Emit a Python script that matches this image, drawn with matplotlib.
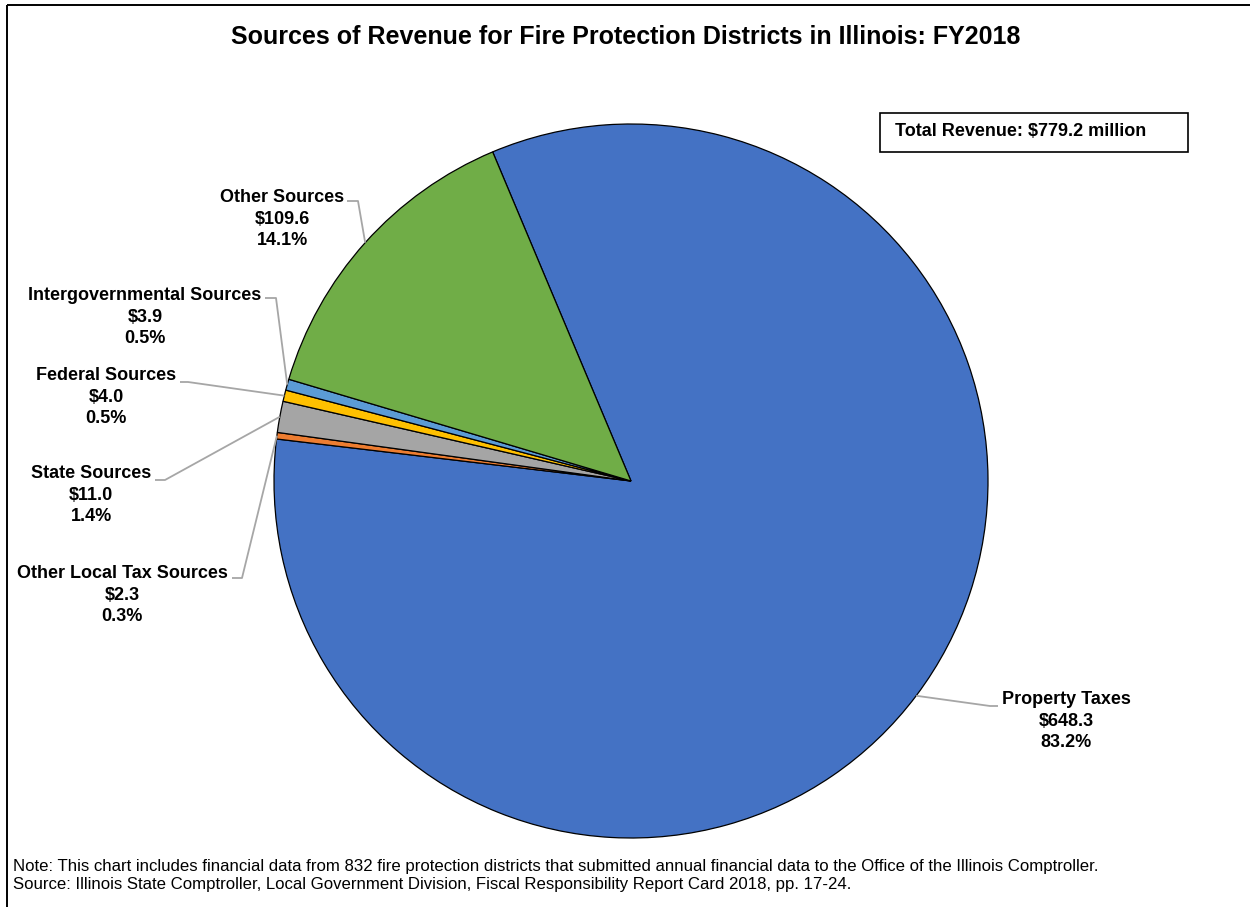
import matplotlib
matplotlib.use('Agg')
import matplotlib.pyplot as plt
from matplotlib.patches import Rectangle
import numpy as np

# ---- data ----
categories = ["Property Taxes", "Other Local Tax Sources", "State Sources",
              "Federal Sources", "Intergovernmental Sources", "Other Sources"]
values = [648.3, 2.3, 11.0, 4.0, 3.9, 109.6]
percents = ["83.2%", "0.3%", "1.4%", "0.5%", "0.5%", "14.1%"]
colors = ['#4472C4', '#ED7D31', '#A5A5A5', '#FFC000', '#5B9BD5', '#70AD47']
total_label = "Total Revenue: $779.2 million"
title = "Sources of Revenue for Fire Protection Districts in Illinois: FY2018"
note_lines = [
    "Note: This chart includes financial data from 832 fire protection districts that submitted annual financial data to the Office of the Illinois Comptroller.",
    "Source: Illinois State Comptroller, Local Government Division, Fiscal Responsibility Report Card 2018, pp. 17-24.",
]

W, H = 1250, 907
FONT = 'Liberation Sans'
fig = plt.figure(figsize=(W / 100, H / 100), dpi=100)
ax = fig.add_axes([0, 0, 1, 1])


def Y(y):
    return H - y


cx, cy, R = 631, 481, 357
wedges, _ = ax.pie(values, colors=colors, startangle=112.8, counterclock=False,
                   radius=R, center=(cx, Y(cy)),
                   wedgeprops=dict(edgecolor='black', linewidth=0.9))
ax.set_xlim(0, W)
ax.set_ylim(0, H)
ax.set_aspect('auto')
ax.axis('off')

# label layout: (text center x, middle line y, leader path from text side (pixel coords))
layout = {
    "Property Taxes": (1066, 721, [(998, 706), (990, 706)]),
    "Other Local Tax Sources": (122, 595, [(232, 578), (242, 578)]),
    "State Sources": (91, 495, [(155, 480), (165, 480)]),
    "Federal Sources": (106, 397, [(180, 382), (188, 382)]),
    "Intergovernmental Sources": (145, 317, [(265, 298), (276, 298)]),
    "Other Sources": (282, 219, [(347, 201), (358, 201)]),
}

for w, cat, val, pct in zip(wedges, categories, values, percents):
    tx, ty, path = layout[cat]
    mid = np.deg2rad((w.theta1 + w.theta2) / 2)
    ex, ey = cx + R * np.cos(mid), Y(cy) + R * np.sin(mid)
    xs = [p[0] for p in path] + [ex]
    ys = [Y(p[1]) for p in path] + [ey]
    ax.plot(xs, ys, color='#A6A6A6', lw=1.3, solid_capstyle='butt', zorder=1)
    ax.text(tx, Y(ty), f"{cat}\n${val:.1f}\n{pct}", ha='center', va='center',
            multialignment='center', fontsize=13, fontweight='bold',
            family=FONT, linespacing=1.33)

# title
ax.text(626, Y(37), title, ha='center', va='center', fontsize=18,
        fontweight='bold', family=FONT)

# total revenue box
ax.add_patch(Rectangle((880, Y(152)), 308, 39, fill=False, edgecolor='black', lw=1.2))
ax.text(895, Y(132), total_label, ha='left', va='center', fontsize=13,
        fontweight='bold', family=FONT)

# footnotes
ax.text(13, Y(867), note_lines[0], ha='left', va='center', fontsize=12.1, family=FONT)
ax.text(13, Y(885), note_lines[1], ha='left', va='center', fontsize=12.1, family=FONT)

# outer border (top and left visible)
ax.plot([7, W], [Y(5), Y(5)], color='black', lw=1.4, solid_capstyle='butt')
ax.plot([7, 7], [Y(5), 0], color='black', lw=1.4, solid_capstyle='butt')

fig.savefig('out.png', dpi=100)
